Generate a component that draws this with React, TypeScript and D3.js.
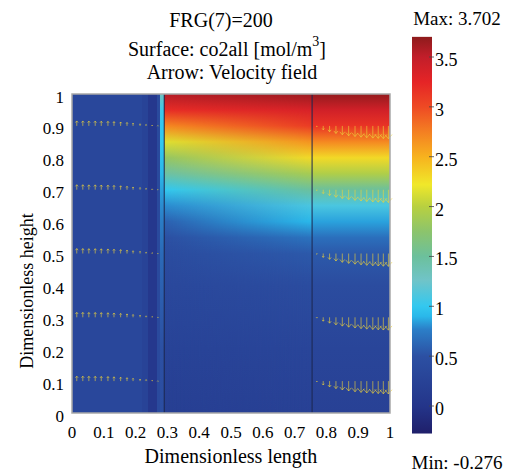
import React from "react";
import * as d3 from "d3";

// colour map (value -> colour)
const CMAP_V = [-0.276, 0, 0.5, 0.77, 0.9, 1.0, 1.26, 1.5, 1.75, 2.0, 2.22, 2.5, 2.75, 3.0, 3.25, 3.5, 3.702];
const CMAP_C = ["#1f1f6a", "#24358a", "#2c50a3", "#2b7fc8", "#2ab8ea", "#33c8ef", "#70c4c8", "#6cc09c", "#8cc46c", "#b8d040", "#f0e82a", "#f7b21e", "#f47f22", "#ee4a24", "#e52426", "#c21e2a", "#8e1b1c"];

const C_MIN = -0.276;
const C_MAX = 3.702;
const CB_TICKS = [0, 0.5, 1, 1.5, 2, 2.5, 3, 3.5];
const AXIS_TICKS = [0, 0.1, 0.2, 0.3, 0.4, 0.5, 0.6, 0.7, 0.8, 0.9, 1];

// subdomain boundaries
const BOUNDS = [0.29, 0.755];

// vertical concentration profiles
const PROFILE_Y = [0, 0.2, 0.4, 0.5, 0.55, 0.6, 0.65, 0.7, 0.75, 0.8, 0.85, 0.9, 0.95, 1];
const MID_LEFT_C = [0.18, 0.25, 0.35, 0.42, 0.5, 0.6, 0.8, 1.0, 1.45, 1.8, 2.15, 2.7, 3.2, 3.55];
const MID_RIGHT_C = [0.22, 0.3, 0.42, 0.55, 0.7, 0.9, 1.1, 1.5, 1.9, 2.3, 2.65, 3.1, 3.35, 3.65];
const RIGHT_C = [0.22, 0.3, 0.42, 0.55, 0.68, 0.85, 1.1, 1.5, 1.95, 2.3, 2.7, 3.15, 3.4, 3.68];
const EDGE_C = [0.45, 0.5, 0.6, 0.65, 0.7, 0.75, 0.8, 0.85, 0.9, 0.95, 1.0, 1.0, 1.05, 1.3];

// left domain: uniform strips
const LEFT_STRIP_X = [0, 0.22, 0.24, 0.268, 0.278];
const LEFT_STRIP_C = [0.33, 0.26, 0.06, 0.38];
const EDGE_X = [0.278, 0.29];

// arrows
const ROW_Y = [0.1, 0.3, 0.5, 0.7, 0.9];
const LEFT_ARROW_X = [0.015, 0.034, 0.053, 0.073, 0.092, 0.113, 0.132, 0.153, 0.173, 0.192, 0.214, 0.233, 0.252, 0.27];
const LEFT_ARROW_V = [0.38, 0.38, 0.37, 0.37, 0.36, 0.35, 0.33, 0.3, 0.26, 0.21, 0.16, 0.11, 0.06, 0.02];
const RIGHT_ARROW_X = [0.77, 0.79, 0.81, 0.83, 0.85, 0.87, 0.89, 0.909, 0.927, 0.946, 0.963, 0.979, 0.995];
const RIGHT_ARROW_V = [0.06, 0.3, 0.45, 0.58, 0.68, 0.76, 0.82, 0.87, 0.91, 0.94, 0.96, 0.98, 0.99];

const W = 513;
const H = 473;
const PL = 72, PR = 390, PT = 94, PB = 413;
const CBX = 412, CBW = 20;
const FONT = "'Liberation Serif', 'Times New Roman', serif";

const color = d3.scaleLinear<string>().domain(CMAP_V).range(CMAP_C).interpolate(d3.interpolateRgb);
const x = d3.scaleLinear().domain([0, 1]).range([PL, PR]);
const y = d3.scaleLinear().domain([0, 1]).range([PB, PT]);
const cb = d3.scaleLinear().domain([0, 3.5]).range([406, 57]);
const vel = d3.scaleLinear().domain([0, 1]).range([0, 13]);

function ProfileGradient({ id, values }: { id: string; values: number[] }) {
  const stops = PROFILE_Y.map((py, i) => ({ off: 1 - py, c: values[i] })).reverse();
  return (
    <linearGradient id={id} x1="0" y1="0" x2="0" y2="1">
      {stops.map((s, i) => (
        <stop key={i} offset={s.off} stopColor={color(s.c)} />
      ))}
    </linearGradient>
  );
}

function arrowPath(px: number, py: number, len: number, dir: number) {
  // dir = -1 up, +1 down (screen)
  const x0 = x(px);
  const y0 = y(py);
  const y1 = y0 + dir * len;
  const hw = Math.max(0.6, 0.28 * len);
  const hl = Math.max(0.6, 0.33 * len);
  return `M${x0},${y0}L${x0},${y1}M${x0 - hw},${y1 - dir * hl}L${x0},${y1}L${x0 + hw},${y1 - dir * hl}`;
}

export default function App() {
  const cbStops = CMAP_V.map((v, i) => ({ off: (C_MAX - v) / (C_MAX - C_MIN), c: CMAP_C[i] })).reverse();
  const plotH = PB - PT;
  return (
    <svg width={W} height={H} style={{ position: "absolute", left: 0, top: 0, background: "#fff" }} fontFamily={FONT}>
      <defs>
        <ProfileGradient id="midL" values={MID_LEFT_C} />
        <ProfileGradient id="midR" values={MID_RIGHT_C} />
        <ProfileGradient id="right" values={RIGHT_C} />
        <ProfileGradient id="edge" values={EDGE_C} />
        <linearGradient id="hfade" x1="0" y1="0" x2="1" y2="0">
          <stop offset="0" stopColor="#000" />
          <stop offset="1" stopColor="#fff" />
        </linearGradient>
        <mask id="midMask" maskUnits="userSpaceOnUse">
          <rect x={x(BOUNDS[0])} y={PT} width={x(BOUNDS[1]) - x(BOUNDS[0])} height={plotH} fill="url(#hfade)" />
        </mask>
        <linearGradient id="cbar" x1="0" y1="0" x2="0" y2="1">
          {cbStops.map((s, i) => (
            <stop key={i} offset={s.off} stopColor={s.c} />
          ))}
        </linearGradient>
      </defs>

      {/* titles */}
      <text x={221} y={27} fontSize={20} textAnchor="middle">FRG(7)=200</text>
      <text x={227} y={56} fontSize={20} textAnchor="middle">
        Surface: co2all [mol/m<tspan fontSize={14} dy={-10}>3</tspan><tspan dy={10}>]</tspan>
      </text>
      <text x={232} y={79} fontSize={20} textAnchor="middle">Arrow: Velocity field</text>

      {/* surface */}
      <g shapeRendering="crispEdges">
        {LEFT_STRIP_C.map((c, i) => {
          const x1 = i + 1 < LEFT_STRIP_X.length ? LEFT_STRIP_X[i + 1] : EDGE_X[0];
          return <rect key={"ls" + i} x={x(LEFT_STRIP_X[i])} y={PT} width={x(x1) - x(LEFT_STRIP_X[i]) + 0.5} height={plotH} fill={color(c)} />;
        })}
        <rect x={x(EDGE_X[0])} y={PT} width={x(EDGE_X[1]) - x(EDGE_X[0]) + 0.5} height={plotH} fill="url(#edge)" />
        <rect x={x(BOUNDS[0])} y={PT} width={x(BOUNDS[1]) - x(BOUNDS[0])} height={plotH} fill="url(#midL)" />
        <rect x={x(BOUNDS[0])} y={PT} width={x(BOUNDS[1]) - x(BOUNDS[0])} height={plotH} fill="url(#midR)" mask="url(#midMask)" />
        <rect x={x(BOUNDS[1])} y={PT} width={x(1) - x(BOUNDS[1])} height={plotH} fill="url(#right)" />
      </g>

      {BOUNDS.map((b) => (
        <line key={b} x1={x(b)} x2={x(b)} y1={PT} y2={PB} stroke="#1c2750" strokeWidth={1} />
      ))}

      {/* arrows */}
      <g stroke="#ecd23c" strokeOpacity={0.62} strokeWidth={1} fill="none">
        {ROW_Y.map((ry) =>
          LEFT_ARROW_X.map((ax, i) => (
            <path key={`l${ry}-${i}`} d={arrowPath(ax, ry, vel(LEFT_ARROW_V[i]), -1)} />
          ))
        )}
        {ROW_Y.map((ry) =>
          RIGHT_ARROW_X.map((ax, i) => (
            <path key={`r${ry}-${i}`} d={arrowPath(ax, ry, vel(RIGHT_ARROW_V[i]), 1)} />
          ))
        )}
      </g>

      {/* frame */}
      <rect x={PL} y={PT} width={PR - PL} height={plotH} fill="none" stroke="#a8a8a8" strokeWidth={1.5} />

      {/* axes labels */}
      {AXIS_TICKS.map((t) => (
        <text key={"x" + t} x={x(t)} y={438} fontSize={17} textAnchor="middle">{String(t)}</text>
      ))}
      {AXIS_TICKS.map((t) => (
        <text key={"y" + t} x={64} y={y(t) + 8.5} fontSize={17} textAnchor="end">{String(t)}</text>
      ))}
      <text x={231} y={463} fontSize={20} textAnchor="middle">Dimensionless length</text>
      <text transform="translate(33,291) rotate(-90)" fontSize={18} textAnchor="middle">Dimensionless height</text>

      {/* colour bar */}
      <rect x={CBX} y={cb(C_MAX)} width={CBW} height={cb(C_MIN) - cb(C_MAX)} fill="url(#cbar)" />
      {CB_TICKS.map((t) => (
        <g key={"cb" + t}>
          <line x1={CBX + CBW - 3} x2={CBX + CBW + 2} y1={cb(t)} y2={cb(t)} stroke="#444" strokeWidth={0.8} />
          <text x={CBX + CBW + 3} y={cb(t) + 9} fontSize={18}>{String(t)}</text>
        </g>
      ))}
      <text x={457} y={25} fontSize={19} textAnchor="middle">Max: 3.702</text>
      <text x={457} y={469} fontSize={19} textAnchor="middle">Min: -0.276</text>
    </svg>
  );
}
